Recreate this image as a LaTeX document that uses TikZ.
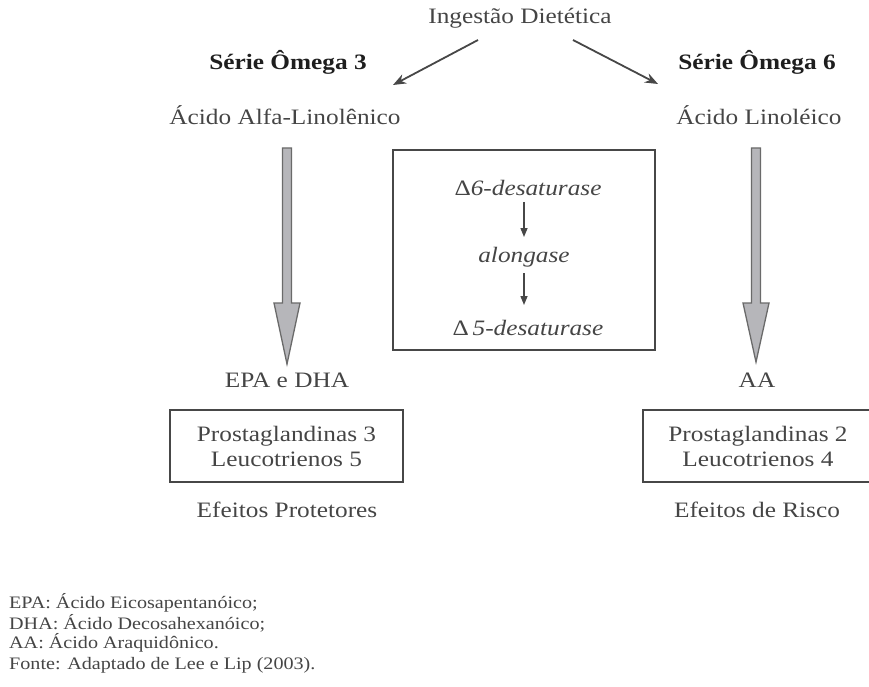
\documentclass[tikz,border=0pt]{standalone}
\usepackage{fontspec}
\setmainfont{Liberation Serif}[FakeStretch=1.15]
\usetikzlibrary{arrows.meta}
\definecolor{txt}{HTML}{454545}
\definecolor{ttlc}{HTML}{1E1E1E}
\definecolor{ln}{HTML}{474747}
\definecolor{fatfill}{HTML}{B6B6BA}
\definecolor{fatline}{HTML}{6A6A6A}
\begin{document}
\begin{tikzpicture}[x=1pt,y=-1pt,
  lbl/.style={text=txt, font=\fontsize{22}{25}\selectfont, inner sep=0pt, align=center},
  ttl/.style={text=ttlc, font=\fontsize{22}{25}\selectfont\bfseries, inner sep=0pt},
  enz/.style={text=txt, font=\fontsize{22}{25}\selectfont\itshape, inner sep=0pt},
  note/.style={text=txt, font=\fontsize{17.5}{20}\selectfont, inner sep=0pt, anchor=west},
  frame/.style={draw=ln, line width=1.6pt, fill=none},
  boxn/.style={lbl, draw=ln, line width=1.6pt},
  thinarrow/.style={draw=ln, line width=1.8pt, -{Stealth[length=13pt,width=10pt]}},
  smallarrow/.style={draw=ln, line width=1.4pt, -{Triangle[length=9pt,width=7pt]}},
  fat/.style={draw=fatline, fill=fatfill, line width=1.3pt, line join=miter}]
\useasboundingbox (0,0) rectangle (869,687);

% top
\node[lbl] (ing) at (520,18) {Ingestão Dietética};
\node[ttl] (s3) at (288,62) {Série Ômega 3};
\node[ttl] (s6) at (757,62) {Série Ômega 6};
\node[lbl] (ala) at (285,115) {Ácido Alfa-Linolênico};
\node[lbl] (la) at (759,115) {Ácido Linoléico};

\coordinate (a1s) at (478,40);
\coordinate (a1e) at (393,85);
\coordinate (a2s) at (573,40);
\coordinate (a2e) at (658,84);
\draw[thinarrow] (a1s) -- (a1e);
\draw[thinarrow] (a2s) -- (a2e);

% centre box
\node[frame, minimum width=262pt, minimum height=200pt, inner sep=0pt] (cbox) at (524,250) {};
\node[enz] (d6) at (528,188) {\textup{Δ}6-desaturase};
\node[enz] (alo) at (524,257) {alongase};
\node[enz] (d5) at (528,328) {\textup{Δ}\,5-desaturase};
\draw[smallarrow] (d6.south -| 524,0) ++(0,6) -- (524,237);
\draw[smallarrow] (alo.south -| 524,0) ++(0,6) -- (524,305);

% fat arrows
\draw[fat] (282.5,148) -- (291.5,148) -- (291.5,303) -- (300,303) -- (287,364)
  -- (274,303) -- (282.5,303) -- cycle;
\draw[fat] (751.5,148) -- (760.5,148) -- (760.5,303) -- (769,303) -- (756,362)
  -- (743,303) -- (751.5,303) -- cycle;

% products
\node[lbl] (epa) at (287,380) {EPA e DHA};
\node[lbl] (aa) at (757,380) {AA};
\node[boxn, minimum width=233pt, minimum height=72pt] (pg3) at (286.5,446) {Prostaglandinas 3\\Leucotrienos 5};
\node[boxn, minimum width=230pt, minimum height=72pt] (pg2) at (758,446) {Prostaglandinas 2\\Leucotrienos 4};
\node[lbl] (ep) at (287,510) {Efeitos Protetores};
\node[lbl] (er) at (757,510) {Efeitos de Risco};

% notes
\node[note] (n1) at (9,603) {EPA: Ácido Eicosapentanóico;};
\node[note] (n2) at (9,623) {DHA: Ácido Decosahexanóico;};
\node[note] (n3) at (9,643) {AA: Ácido Araquidônico.};
\node[note] (n4) at (9,665) {Fonte: Adaptado de Lee e Lip (2003).};
\end{tikzpicture}
\end{document}
